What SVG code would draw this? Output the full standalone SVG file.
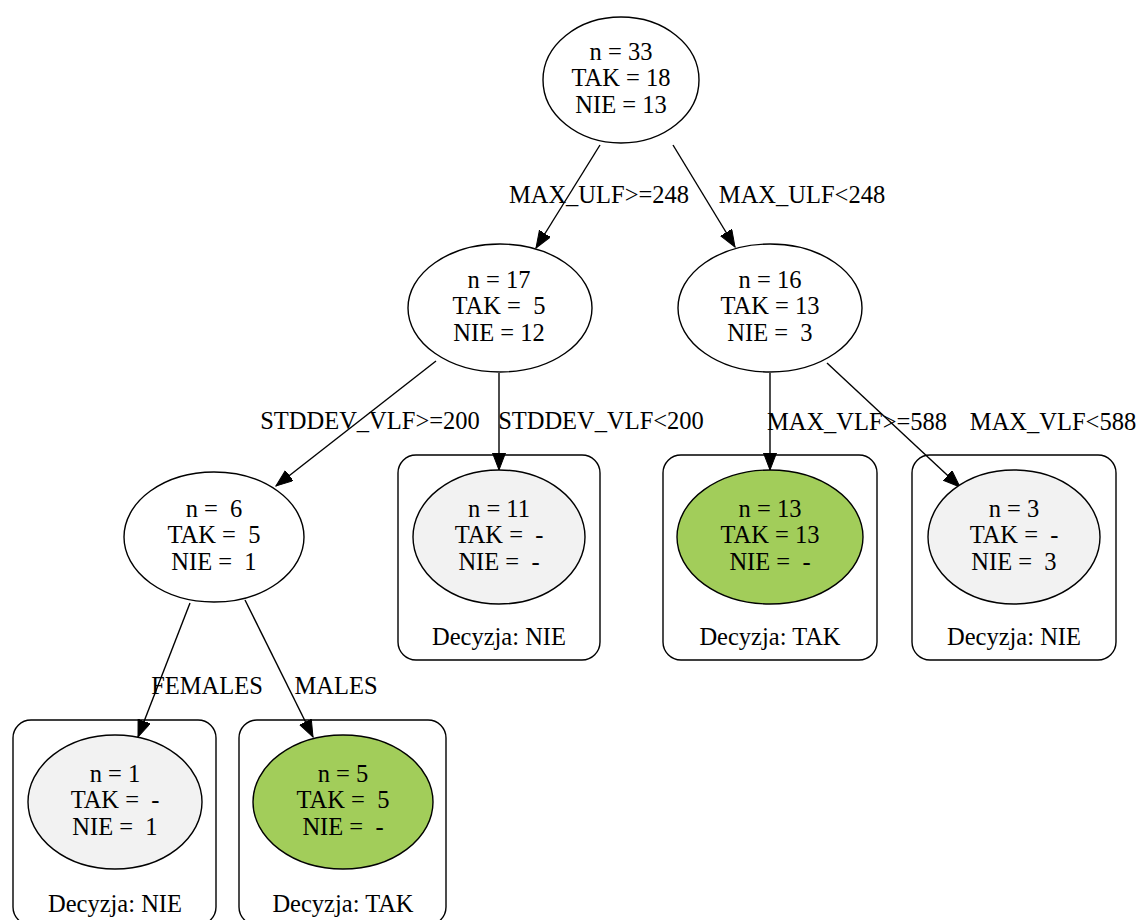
<svg xmlns="http://www.w3.org/2000/svg" width="1140" height="920" viewBox="0 0 1140 920">
<style>
text{font-family:"Liberation Serif","Times New Roman",serif;font-size:24.5px;fill:#000;text-anchor:middle;white-space:pre}
.n{fill:#fff;stroke:#000;stroke-width:1.4}
.g{fill:#f2f2f2;stroke:#000;stroke-width:1.4}
.t{fill:#a2cd5a;stroke:#000;stroke-width:1.4}
.box{fill:none;stroke:#000;stroke-width:1.4}
.e{stroke:#000;stroke-width:1.4;fill:none}
</style>
<defs>
<marker id="ah" markerUnits="userSpaceOnUse" markerWidth="18" markerHeight="14" refX="17" refY="6.5" orient="auto">
<path d="M0,0 L17,6.5 L0,13 z" fill="#000" stroke="#000" stroke-width="1"/>
</marker>
</defs>
<rect width="1140" height="920" fill="#fff"/>
<g id="connectors">
<line class="e" x1="600" y1="145" x2="536" y2="248" marker-end="url(#ah)"/>
<line class="e" x1="673" y1="145" x2="735" y2="247" marker-end="url(#ah)"/>
<line class="e" x1="436" y1="361" x2="276" y2="486" marker-end="url(#ah)"/>
<line class="e" x1="499" y1="373" x2="499" y2="470" marker-end="url(#ah)"/>
<line class="e" x1="770" y1="373" x2="770" y2="470" marker-end="url(#ah)"/>
<line class="e" x1="827" y1="363" x2="960" y2="487" marker-end="url(#ah)"/>
<line class="e" x1="190" y1="603" x2="138" y2="737" marker-end="url(#ah)"/>
<line class="e" x1="245" y1="600" x2="313" y2="737" marker-end="url(#ah)"/>
<text x="599" y="203">MAX_ULF&gt;=248</text>
<text x="802" y="203">MAX_ULF&lt;248</text>
<text x="370" y="429">STDDEV_VLF&gt;=200</text>
<text x="601" y="429">STDDEV_VLF&lt;200</text>
<text x="857" y="430">MAX_VLF&gt;=588</text>
<text x="1053" y="430">MAX_VLF&lt;588</text>
<text x="207" y="694">FEMALES</text>
<text x="336" y="694">MALES</text>
</g>
<g id="root">
<ellipse class="n" cx="621" cy="80" rx="78" ry="63"/>
<text x="621" y="60">n = 33</text>
<text x="621" y="86">TAK = 18</text>
<text x="621" y="113">NIE = 13</text>
</g>
<g id="n17">
<ellipse class="n" cx="500" cy="308" rx="92" ry="64"/>
<text x="499" y="288">n = 17</text>
<text x="499" y="314">TAK =  5</text>
<text x="499" y="341">NIE = 12</text>
</g>
<g id="n16">
<ellipse class="n" cx="770" cy="308" rx="92" ry="64"/>
<text x="770" y="288">n = 16</text>
<text x="770" y="314">TAK = 13</text>
<text x="770" y="341">NIE =  3</text>
</g>
<g id="n6">
<ellipse class="n" cx="214" cy="537" rx="90" ry="65"/>
<text x="214" y="517">n =  6</text>
<text x="214" y="543">TAK =  5</text>
<text x="214" y="570">NIE =  1</text>
</g>
<g id="leaf11">
<rect class="box" x="398" y="455" width="202" height="205" rx="18"/>
<ellipse class="g" cx="499" cy="537" rx="86" ry="67"/>
<text x="499" y="517">n = 11</text>
<text x="499" y="543">TAK =  -</text>
<text x="499" y="570">NIE =  -</text>
<text x="499" y="645">Decyzja: NIE</text>
</g>
<g id="leaf13">
<rect class="box" x="663" y="455" width="214" height="205" rx="18"/>
<ellipse class="t" cx="770" cy="537" rx="93" ry="67"/>
<text x="770" y="517">n = 13</text>
<text x="770" y="543">TAK = 13</text>
<text x="770" y="570">NIE =  -</text>
<text x="770" y="645">Decyzja: TAK</text>
</g>
<g id="leaf3">
<rect class="box" x="912" y="455" width="204" height="205" rx="18"/>
<ellipse class="g" cx="1014" cy="537" rx="86" ry="67"/>
<text x="1014" y="517">n = 3</text>
<text x="1014" y="543">TAK =  -</text>
<text x="1014" y="570">NIE =  3</text>
<text x="1014" y="645">Decyzja: NIE</text>
</g>
<g id="leaf1">
<rect class="box" x="13" y="720" width="203" height="205" rx="18"/>
<ellipse class="g" cx="115" cy="802" rx="87" ry="67"/>
<text x="115" y="782">n = 1</text>
<text x="115" y="808">TAK =  -</text>
<text x="115" y="835">NIE =  1</text>
<text x="115" y="912">Decyzja: NIE</text>
</g>
<g id="leaf5">
<rect class="box" x="239" y="720" width="207" height="205" rx="18"/>
<ellipse class="t" cx="343" cy="802" rx="90" ry="67"/>
<text x="343" y="782">n = 5</text>
<text x="343" y="808">TAK =  5</text>
<text x="343" y="835">NIE =  -</text>
<text x="343" y="912">Decyzja: TAK</text>
</g>
</svg>
